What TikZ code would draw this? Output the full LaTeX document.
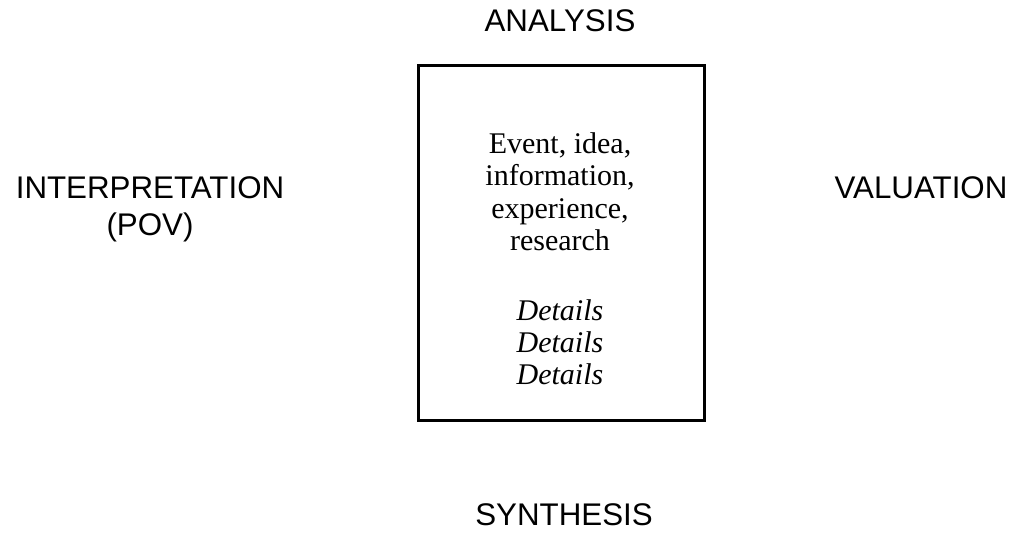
\documentclass[tikz,border=0pt]{standalone}
\usepackage{fontspec}
\setmainfont{Liberation Serif}
\newfontfamily\arialfont{Liberation Sans}
\begin{document}
\begin{tikzpicture}[x=1pt,y=-1pt,
  label/.style={font=\arialfont\fontsize{31.3}{35}\selectfont, inner sep=0pt, anchor=base},
  body/.style={font=\fontsize{30}{32}\selectfont, inner sep=0pt, anchor=base},
  detail/.style={body, font=\itshape\fontsize{30}{32}\selectfont},
  frame/.style={draw, line width=3pt}]
\useasboundingbox (0,0) rectangle (1017,535);
\node[frame, minimum width=286pt, minimum height=354pt, inner sep=0pt] (box) at (561,243) {};
\node[label] (ana) at (560,32) {ANALYSIS};
\node[label] (syn) at (564,525) {SYNTHESIS};
\node[label] (int) at (150,198) {INTERPRETATION};
\node[label] (pov) at (150,235) {(POV)};
\node[label] (val) at (921,198) {VALUATION};
\node[body] (l1) at (560,153) {Event, idea,};
\node[body] (l2) at (560,185.5) {information,};
\node[body] (l3) at (560,218) {experience,};
\node[body] (l4) at (560,250.5) {research};
\node[detail] (d1) at (560,320) {Details};
\node[detail] (d2) at (560,352) {Details};
\node[detail] (d3) at (560,384) {Details};
\end{tikzpicture}
\end{document}
